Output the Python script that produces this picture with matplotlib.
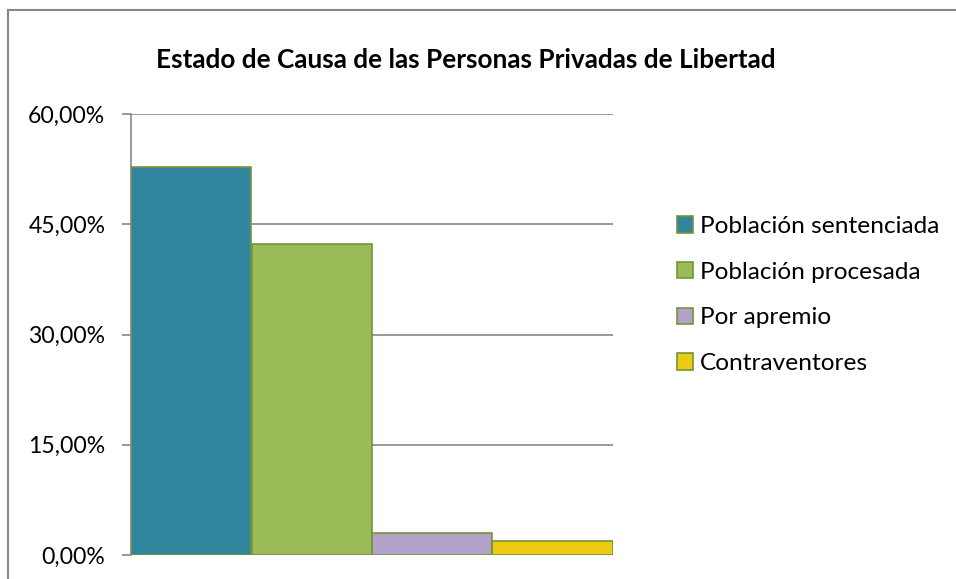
import matplotlib.pyplot as plt
from matplotlib.patches import Patch
from matplotlib.ticker import FuncFormatter

# data
title = "Estado de Causa de las Personas Privadas de Libertad"
series = ["Población sentenciada", "Población procesada", "Por apremio", "Contraventores"]
values = [52.8, 42.3, 3.05, 1.9]
colors = ["#31859C", "#9BBB59", "#B2A2C7", "#EBCC12"]
yticks = [0, 15, 30, 45, 60]

plt.rcParams['font.family'] = ['Lato', 'DejaVu Sans']
edge = "#76923C"
grid = "#878787"

fig = plt.figure(figsize=(9.56, 5.79), dpi=100)
# chart border (right and bottom are cropped off in the reference)
fig.add_artist(plt.Line2D([8/956, 8/956], [0, 1-10/579], color=grid, lw=1.5))
fig.add_artist(plt.Line2D([8/956, 1], [1-10/579, 1-10/579], color=grid, lw=1.5))

ax = fig.add_axes([131/956, 1-555/579, 482/956, 441/579])
for i in range(len(series)):
    ax.bar(i, values[i], width=1.0, color=colors[i], edgecolor=edge, linewidth=1.2,
           label=series[i], zorder=3)

ax.set_xlim(-0.5, 3.5)
ax.set_ylim(0, 60)
ax.set_yticks(yticks)
ax.yaxis.set_major_formatter(FuncFormatter(lambda v, p: ("%.2f%%" % v).replace(".", ",")))
ax.set_xticks([])
ax.grid(axis='y', color=grid, lw=1.2, zorder=0)
for s in ['top', 'right', 'bottom']:
    ax.spines[s].set_visible(False)
ax.spines['left'].set_color(grid)
ax.spines['left'].set_linewidth(1.2)
ax.tick_params(axis='y', length=6.5, width=1.2, color=grid, labelsize=16.6, pad=12)

fig.text(466/956, 1-60/579, title, ha='center', va='center', fontsize=18.8, fontweight='bold')

handles = [Patch(facecolor=c, edgecolor=edge, linewidth=1.2) for c in colors]
ax.legend(handles, series, loc='upper left', bbox_to_anchor=(677/956, 1-216/579),
          bbox_transform=fig.transFigure, frameon=False, fontsize=17.6,
          handlelength=0.66, handleheight=0.66, handletextpad=0.29, labelspacing=1.01,
          borderaxespad=0, borderpad=0)

fig.savefig("out.png", dpi=100)
